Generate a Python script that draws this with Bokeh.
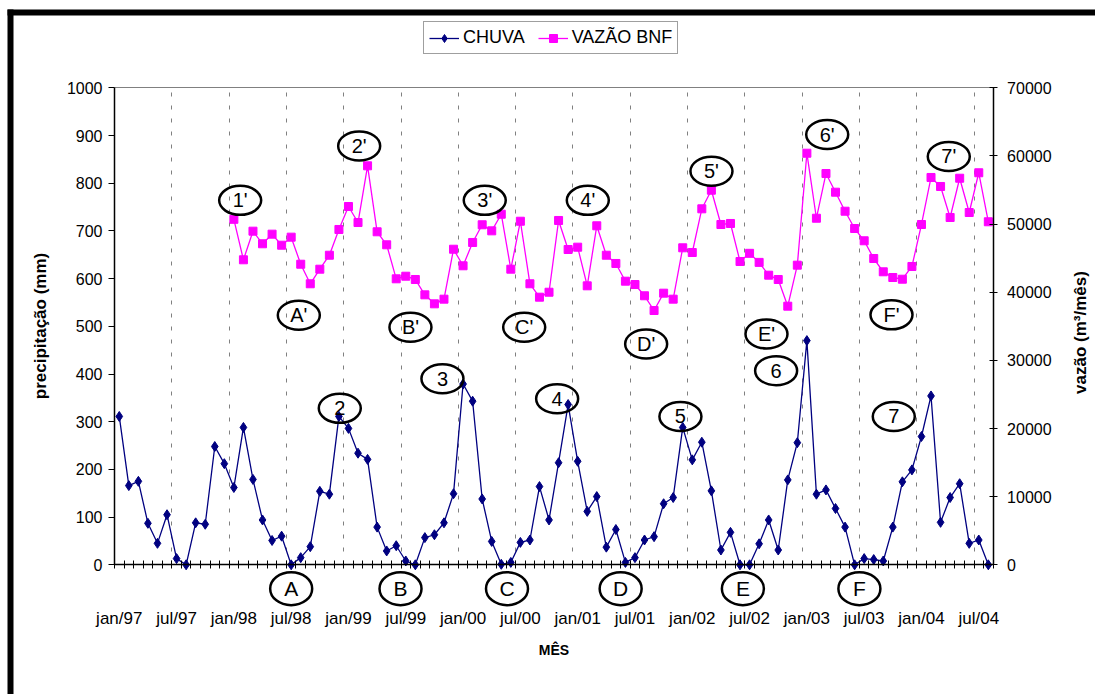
import numpy as np
from bokeh.plotting import figure
from bokeh.models import (Range1d, LinearAxis, FixedTicker, Grid, Legend,
                          LegendItem)
from bokeh.embed import file_html
from bokeh.resources import INLINE
from bokeh.core.properties import value

# ---------------------------------------------------------------- data
# monthly series, jan/97 .. aug/04 (92 months)
chuva = [311, 166, 175, 87, 45, 105, 13, 0, 88, 85, 248, 212,
         162, 288, 179, 94, 51, 60, 0, 15, 38, 154, 148, 311,
         286, 234, 221, 79, 29, 40, 8, 0, 57, 63, 88, 149,
         379, 343, 138, 49, 1, 5, 47, 52, 164, 94, 214, 336,
         217, 112, 143, 37, 74, 5, 15, 52, 59, 128, 141, 288,
         220, 257, 155, 31, 68, 0, 0, 44, 94, 31, 178, 256,
         470, 148, 157, 118, 79, 0, 13, 11, 8, 79, 174, 199,
         269, 354, 89, 141, 170, 45, 52, 0]

# flow at BNF, available from jan/98 on
vazao_inicio = 12
vazao = [50700, 44760, 48960, 47110, 48520, 46900, 48080, 44110, 41240, 43380, 45430, 49210,
         52580, 50230, 58550, 48870, 46960, 41970, 42350, 41870, 39620, 38300, 38980, 46310,
         43880, 47300, 49900, 49010, 51450, 43380, 50420, 41240, 39270, 40000, 50530, 46270,
         46610, 40940, 49750, 45430, 44220, 41620, 41130, 39480, 37320, 39860, 38980, 46520,
         45830, 52240, 54970, 49940, 50090, 44510, 45710, 44380, 42500, 41870, 37950, 43970,
         60400, 50860, 57420, 54680, 51890, 49350, 47550, 44950, 43000, 42160, 41910, 43780,
         49940, 56840, 55520, 50970, 56730, 51700, 57530, 50340]

meses = list(range(len(chuva)))
meses_vazao = meses[vazao_inicio:vazao_inicio + len(vazao)]

tick_meses = [0, 6, 12, 18, 24, 30, 36, 42, 48, 54, 60, 66, 72, 78, 84, 90]
tick_labels = ["jan/97", "jul/97", "jan/98", "jul/98", "jan/99", "jul/99",
               "jan/00", "jul/00", "jan/01", "jul/01", "jan/02", "jul/02",
               "jan/03", "jul/03", "jan/04", "jul/04"]

# circled event markers (month index, mm)
marcas = ["1'", "2'", "A'", "B'", "2", "3'", "4'", "5'", "C'", "D'",
          "3", "4", "5", "6'", "7'", "E'", "6", "F'", "7"]
marcas_x = [12.66, 25.12, 18.80, 30.49, 23.09, 38.27, 49.06, 62.01, 42.40, 55.17,
            33.84, 45.85, 58.76, 74.13, 86.86, 67.77, 68.78, 80.86, 81.10]
marcas_y = [764, 878, 523, 498, 328, 764, 764, 825, 498, 463,
            390, 348, 311, 902, 856, 484, 407, 524, 311]

secas = ["A", "B", "C", "D", "E", "F"]
secas_x = [18.0, 29.45, 40.6, 52.5, 65.3, 77.5]
secas_y = [-50, -50, -50, -50, -50, -50]

# ---------------------------------------------------------------- layout
W, H = 1095, 694
X0_PX, X1_PX = 114.0, 992.6      # left / right edges of the plotting area
Y1000_PX, Y0_PX = 87.3, 564.3    # rows of 1000 mm and 0 mm
N = len(chuva)
VZ_MAX = 70000
MM_MAX = 1000
sx = (X1_PX - X0_PX) / N
sy = (Y0_PX - Y1000_PX) / MM_MAX


def px2x(px):
    return -0.5 + (px - X0_PX) / sx


def py2y(py):
    return (Y0_PX - py) / sy


FONT = value("Liberation Sans")
FONT_NAME = "Liberation Sans"

p = figure(width=W, height=H, output_backend="svg", toolbar_location=None,
           tools="", x_axis_type=None, y_axis_type=None, title=None,
           x_range=Range1d(px2x(0), px2x(W)),
           y_range=Range1d(py2y(H), py2y(0)),
           min_border=0, min_border_left=0, min_border_right=0,
           min_border_top=0, min_border_bottom=0)
p.outline_line_color = None
p.background_fill_color = "white"
p.border_fill_color = "white"
ratio = VZ_MAX / MM_MAX
p.extra_y_ranges = {"vazao": Range1d(py2y(H) * ratio, py2y(0) * ratio)}

# black frame (top and left edges)
p.quad(left=px2x(7), right=px2x(W + 5), top=py2y(9), bottom=py2y(15),
       fill_color="black", line_color=None)
p.quad(left=px2x(7), right=px2x(13), top=py2y(9), bottom=py2y(H + 5),
       fill_color="black", line_color=None)

# vertical dashed grid at every 6 months
grid = Grid(dimension=0,
            ticker=FixedTicker(ticks=[m - 0.5 for m in tick_meses[1:]]),
            cross_bounds=(0, MM_MAX),
            grid_line_color="#808080", grid_line_dash="4 9", grid_line_width=1)
p.add_layout(grid)

# axes
xaxis = LinearAxis(fixed_location=0, bounds=(-0.5, N - 0.5),
                   ticker=FixedTicker(ticks=tick_meses,
                                      minor_ticks=[m - 0.5 for m in range(N + 1)]),
                   major_label_overrides=dict(zip(tick_meses, tick_labels)),
                   major_tick_in=0, major_tick_out=0,
                   minor_tick_in=4, minor_tick_out=4,
                   minor_tick_line_color="black",
                   axis_line_color="black", axis_line_width=1.5,
                   major_label_standoff=40,
                   major_label_text_font=FONT_NAME,
                   major_label_text_font_size="17px",
                   major_label_text_color="black",
                   axis_label="MÊS", axis_label_standoff=11,
                   axis_label_text_font=FONT_NAME,
                   axis_label_text_font_style="bold",
                   axis_label_text_font_size="14px",
                   axis_label_text_color="black")
p.add_layout(xaxis, "below")

yaxis = LinearAxis(fixed_location=-0.5, bounds=(0, MM_MAX),
                   ticker=FixedTicker(ticks=list(range(0, MM_MAX + 1, 100))),
                   major_tick_in=0, major_tick_out=6,
                   minor_tick_line_color=None,
                   axis_line_color="black", axis_line_width=1.5,
                   major_label_standoff=6,
                   major_label_text_font=FONT_NAME,
                   major_label_text_font_size="16px",
                   major_label_text_color="black",
                   axis_label="precipitação (mm)", axis_label_standoff=14,
                   axis_label_text_font=FONT_NAME,
                   axis_label_text_font_style="bold",
                   axis_label_text_font_size="17px",
                   axis_label_text_color="black")
p.add_layout(yaxis, "left")

y2axis = LinearAxis(y_range_name="vazao", fixed_location=N - 0.5,
                    bounds=(0, VZ_MAX),
                    ticker=FixedTicker(ticks=list(range(0, VZ_MAX + 1, 10000))),
                    major_tick_in=4, major_tick_out=4,
                    minor_tick_line_color=None,
                    axis_line_color="black", axis_line_width=1.5,
                    major_label_standoff=10,
                    major_label_text_font=FONT_NAME,
                    major_label_text_font_size="16px",
                    major_label_text_color="black")
p.add_layout(y2axis, "right")

# grey border along the top of the plotting area
topaxis = LinearAxis(fixed_location=MM_MAX, bounds=(-0.5, N - 0.5),
                     ticker=FixedTicker(ticks=[]),
                     axis_line_color="#808080", axis_line_width=1)
p.add_layout(topaxis, "above")

p.text(x=[px2x(1080)], y=[py2y(332)], text=["vazão (m³/mês)"], angle=np.pi / 2,
       text_align="center", text_baseline="middle", text_font=FONT,
       text_font_style="bold", text_font_size="17px", text_color="black")

# series
l1 = p.line(meses, chuva, line_color="#000080", line_width=1.3)
s1 = p.scatter(meses, chuva, marker="diamond", size=10,
               fill_color="#000080", line_color="#000080")
l2 = p.line(meses_vazao, vazao, y_range_name="vazao",
            line_color="#FF00FF", line_width=1.3)
s2 = p.scatter(meses_vazao, vazao, y_range_name="vazao", marker="square",
               size=8, fill_color="#FF00FF", line_color="#FF00FF")

# circled markers
p.ellipse(x=marcas_x, y=marcas_y, width=42, height=29,
          width_units="screen", height_units="screen",
          fill_color=None, line_color="black", line_width=2.5)
p.text(x=marcas_x, y=marcas_y, text=marcas, text_align="center",
       text_baseline="middle", text_font=FONT, text_font_size="20px",
       text_color="black")
p.ellipse(x=secas_x, y=secas_y, width=42, height=33,
          width_units="screen", height_units="screen",
          fill_color=None, line_color="black", line_width=2.5)
p.text(x=secas_x, y=secas_y, text=secas, text_align="center",
       text_baseline="middle", text_font=FONT, text_font_size="21px",
       text_color="black")

legend = Legend(items=[LegendItem(label="CHUVA", renderers=[l1, s1]),
                       LegendItem(label="VAZÃO BNF", renderers=[l2, s2])],
                orientation="horizontal", location=(423, H - 54),
                label_text_font=FONT_NAME, label_text_font_size="18px",
                label_text_color="black",
                glyph_width=30, glyph_height=20, label_standoff=4,
                spacing=13, padding=5, margin=0,
                border_line_color="#404040", border_line_width=1,
                background_fill_color="white", background_fill_alpha=1)
p.add_layout(legend)

open("out.html", "w").write(file_html(p, INLINE))
